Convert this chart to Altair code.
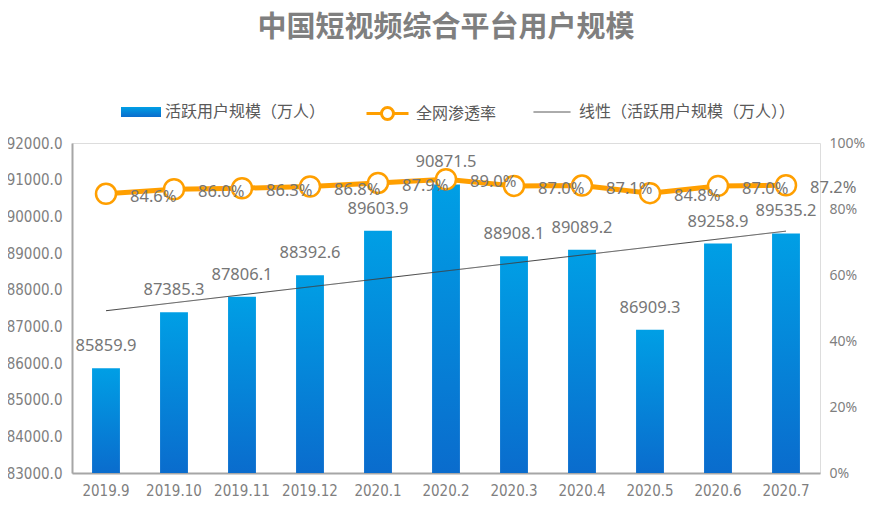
import json
import altair as alt
import pandas as pd

months = ["2019.9", "2019.10", "2019.11", "2019.12", "2020.1", "2020.2",
          "2020.3", "2020.4", "2020.5", "2020.6", "2020.7"]
users = [85859.9, 87385.3, 87806.1, 88392.6, 89603.9, 90871.5,
         88908.1, 89089.2, 86909.3, 89258.9, 89535.2]
penetration = [84.6, 86.0, 86.3, 86.8, 87.9, 89.0, 87.0, 87.1, 84.8, 87.0, 87.2]
left_ticks = [83000, 84000, 85000, 86000, 87000, 88000, 89000, 90000, 91000, 92000]
right_ticks = [0, 0.2, 0.4, 0.6, 0.8, 1.0]

TITLE = "中国短视频综合平台用户规模"
S_BAR = "活跃用户规模（万人）"
S_LINE = "全网渗透率"
S_TREND = "线性（活跃用户规模（万人））"

df = pd.DataFrame({
    "month": months,
    "idx": list(range(len(months))),
    "users": users,
    "pen": [p / 100 for p in penetration],
})

GRAY = "#7f7f7f"
ORANGE = "#ff9f00"
CJK = "Noto Sans CJK SC"
NARROW = "DejaVu Sans Condensed"

x_enc = alt.X("month:N", sort=months, title=None,
              scale=alt.Scale(paddingInner=0.59, paddingOuter=0.295),
              axis=alt.Axis(labelAngle=0, labelFont=NARROW, labelFontSize=15,
                            labelColor=GRAY, labelPadding=10, ticks=False,
                            labelOverlap=False,
                            domainColor="#a6a6a6", domainWidth=2, grid=False))

y_left = alt.Y("users:Q", title=None,
               scale=alt.Scale(domain=[left_ticks[0], left_ticks[-1]],
                               nice=False, zero=False),
               axis=alt.Axis(values=left_ticks, format=".1f", labelFont=NARROW,
                             labelFontSize=15, labelColor=GRAY, labelPadding=10,
                             labelOverlap=False,
                             ticks=False, grid=False, domainColor="#a6a6a6",
                             domainWidth=2))

y_right = alt.Y("pen:Q", title=None,
                scale=alt.Scale(domain=[0, 1], nice=False),
                axis=alt.Axis(orient="right", values=right_ticks, format=".0%",
                              labelFont="Noto Sans", labelFontSize=14,
                              labelColor=GRAY, labelPadding=9, ticks=False,
                              grid=False, labelOverlap=False, domain=False))

base = alt.Chart(df)

bar_gradient = alt.LinearGradient(
    gradient="linear", x1=1, y1=1, x2=1, y2=0,
    stops=[alt.GradientStop(offset=0, color="#0a6ccd"),
           alt.GradientStop(offset=1, color="#009fe5")])

bars = base.mark_bar(color=bar_gradient, clip=True).encode(
    x=x_enc, y=y_left, y2=alt.datum(left_ticks[0]),
    opacity=alt.Opacity("s:N", title=None,
                        scale=alt.Scale(domain=[S_BAR], range=[1]),
                        legend=alt.Legend(
                            orient="none", legendX=49, legendY=-51,
                            symbolType="M-1,-0.25H1V0.25H-1Z", symbolSize=1600,
                            symbolFillColor="#0a8be0", symbolStrokeWidth=0,
                            symbolOpacity=1, labelOffset=4, labelLimit=400,
                            labelFont=CJK, labelFontSize=16, labelColor="#595959")),
).transform_calculate(s=f"'{S_BAR}'")

bar_text = base.mark_text(baseline="bottom", dy=-14, font="Noto Sans",
                          fontSize=16.5, color="#767676").encode(
    x=x_enc, y=y_left,
    text=alt.Text("users:Q", format=".1f"))

trend = base.transform_regression("idx", "users").transform_calculate(
    month=f"{json.dumps(months)}[datum.idx]", s=f"'{S_TREND}'"
).mark_line(color="#404040", strokeWidth=1).encode(
    x=x_enc, y=y_left,
    strokeDash=alt.StrokeDash("s:N", title=None,
                              scale=alt.Scale(domain=[S_TREND], range=[[1, 0]]),
                              legend=alt.Legend(
                                  orient="none", legendX=461, legendY=-50,
                                  symbolType="stroke", symbolSize=1369,
                                  symbolStrokeColor="#404040", symbolStrokeWidth=1,
                                  labelOffset=8, labelLimit=400, labelFont=CJK,
                                  labelFontSize=16, labelColor="#595959")),
)

left = alt.layer(bars, bar_text, trend)

line = base.mark_line(strokeWidth=5).encode(
    x=x_enc, y=y_right,
    stroke=alt.Stroke("s:N", title=None,
                      scale=alt.Scale(domain=[S_LINE], range=[ORANGE]),
                      legend=alt.Legend(
                          orient="none", legendX=293, legendY=-52,
                          symbolType="M-1,0H-0.286M0.286,0H1M-0.286,0A0.286,0.286 0 1,0 0.286,0A0.286,0.286 0 1,0 -0.286,0",
                          symbolSize=1764, symbolFillColor="white",
                          symbolStrokeWidth=3, labelOffset=6, labelLimit=400,
                          labelFont=CJK, labelFontSize=16, labelColor="#595959")),
).transform_calculate(s=f"'{S_LINE}'")

points = base.mark_point(shape="circle", size=400, filled=True, fill="white",
                         stroke=ORANGE, strokeWidth=2.5, opacity=1).encode(
    x=x_enc, y=y_right)

pen_text = base.mark_text(align="left", baseline="middle", dx=24, dy=3,
                          font="Noto Sans", fontSize=16.5, color="#767676").encode(
    x=x_enc, y=y_right,
    text=alt.Text("pen:Q", format=".1%"))

right = alt.layer(line, points, pen_text)

chart = alt.layer(left, right).resolve_scale(
    y="independent", opacity="independent", stroke="independent",
    strokeDash="independent"
).properties(
    width=748, height=330,
    autosize=alt.AutoSizeParams(type="none"),
    padding={"left": 64, "top": 135, "right": 46, "bottom": 51},
    title=alt.TitleParams(TITLE, font=CJK, fontSize=29, fontWeight="bold",
                          color="#7f7f7f", anchor="middle", offset=48),
).configure_view(stroke=None).configure(background="white")

chart.save("out.html", embed_options={"renderer": "svg", "actions": False})
